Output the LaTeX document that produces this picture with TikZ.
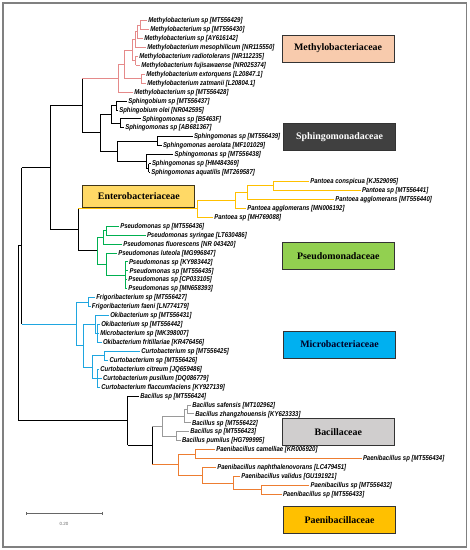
\documentclass[tikz,border=0pt]{standalone}
\usepackage{fontspec}
\setmainfont{Liberation Serif}
\newfontfamily\leaffont[FakeStretch=0.85]{Liberation Sans}
\newfontfamily\plainsans{Liberation Sans}
\usetikzlibrary{arrows.meta}
\definecolor{mpink}{HTML}{E58A8A}
\definecolor{pyel}{HTML}{FFC000}
\definecolor{pgreen}{HTML}{00B050}
\definecolor{mblue}{HTML}{1FA6E0}
\definecolor{bgray}{HTML}{9A9A9A}
\definecolor{porange}{HTML}{ED7D31}
\definecolor{fMeth}{HTML}{F8CBAD}
\definecolor{fSph}{HTML}{404040}
\definecolor{fEnt}{HTML}{FFD966}
\definecolor{fPse}{HTML}{92D050}
\definecolor{fMic}{HTML}{00B0F0}
\definecolor{fBac}{HTML}{D0CECE}
\definecolor{fPae}{HTML}{FFC000}
\tikzset{
 leaf/.style={anchor=west, inner sep=0pt, outer sep=1.3pt, font=\leaffont\bfseries\itshape\fontsize{7.05}{8}\selectfont, text height=5.2pt, text depth=0.8pt},
 br/.style={line width=0.8pt},
 fam/.style={draw=black!80, line width=0.6pt, minimum width=112pt, minimum height=27pt, font=\bfseries\fontsize{9.9}{11}\selectfont, inner sep=0pt},
}
\newcommand{\hb}[3][black]{\draw[br,#1] (#2 |- #3) -- (#3);}
\newcommand{\vb}[4][black]{\draw[br,#1] (#2 |- #3) -- (#2 |- #4);}
\begin{document}
\begin{tikzpicture}[x=1pt,y=-1pt]
\useasboundingbox (0,0) rectangle (470,550);
\draw[line width=1.5pt, color=black!50] (3,3) rectangle (466.5,547);
% leaves
\foreach \n/\x/\t in {
1/147/{Methylobacterium sp [MT556429]},
2/149/{Methylobacterium sp [MT556430]},
3/143/{Methylobacterium sp [AY616142]},
4/146/{Methylobacterium mesophilicum [NR115550]},
5/138/{Methylobacterium radiotolerans [NR112235]},
6/140/{Methylobacterium fujisawaense [NR025374]},
7/145/{Methylobacterium extorquens [L20847.1]},
8/146/{Methylobacterium zatmanii [L20804.1]},
9/133/{Methylobacterium sp [MT556428]},
10/127/{Sphingobium sp [MT556437]},
11/118/{Sphingobium olei [NR042595]},
12/141/{Sphingomonas sp [B5463F]},
13/124/{Sphingomonas sp [AB681367]},
14/192.7/{Sphingomonas sp [MT556439]},
15/161.7/{Sphingomonas aerolata [MF101029]},
16/173.3/{Sphingomonas sp [MT556438]},
17/150.7/{Sphingomonas sp [HM484369]},
18/150/{Sphingomonas aquatilis [MT269587]},
19/309/{Pantoea conspicua [KJ529095]},
20/360.7/{Pantoea sp [MT556441]},
21/334/{Pantoea agglomerans [MT556440]},
22/246/{Pantoea agglomerans [MN006192]},
23/213/{Pantoea sp [MH769088]},
24/119/{Pseudomonas sp [MT556436]},
25/145.7/{Pseudomonas syringae [LT630486]},
26/122/{Pseudomonas fluorescens [NR 043420]},
27/117/{Pseudomonas luteola [MG996847]},
28/127.7/{Pseudomonas sp [KY983442]},
29/128.3/{Pseudomonas sp [MT556435]},
30/127/{Pseudomonas sp [CP033105]},
31/127/{Pseudomonas sp [MN658393]},
32/95/{Frigoribacterium sp [MT556427]},
33/90.7/{Frigoribacterium faeni [LN774179]},
34/109/{Okibacterium sp [MT556431]},
35/100/{Okibacterium sp [MT556442]},
36/99/{Microbacterium sp [MK398007]},
37/101.7/{Okibacterium fritillariae [KR476456]},
38/140/{Curtobacterium sp [MT556425]},
39/108.3/{Curtobacterium sp [MT556426]},
40/99/{Curtobacterium citreum [JQ659486]},
41/101.7/{Curtobacterium pusillum [DQ086779]},
42/100/{Curtobacterium flaccumfaciens [KY927139]},
43/139/{Bacillus sp [MT556424]},
44/191/{Bacillus safensis [MT102962]},
45/194/{Bacillus zhangzhouensis [KY623333]},
46/190.7/{Bacillus sp [MT556422]},
47/189/{Bacillus sp [MT556423]},
48/180.7/{Bacillus pumilus [HG799995]},
49/215/{Paenibacillus camelliae [KR006920]},
50/361.7/{Paenibacillus sp [MT556434]},
51/216/{Paenibacillus naphthalenovorans [LC479451]},
52/240/{Paenibacillus validus [GU191921]},
53/309.3/{Paenibacillus sp [MT556432]},
54/281.7/{Paenibacillus sp [MT556433]}}
  \node[leaf] (l\n) at (\x,{20.5+8.94*(\n-1)}) {\t};
% internal nodes
\coordinate (m12) at (140,24.97);
\coordinate (m123) at (137,31.68);
\coordinate (m14) at (135,39.5);
\coordinate (m56) at (135.5,60.73);
\coordinate (m16) at (132,50.1);
\coordinate (m78) at (141,78.61);
\coordinate (m18) at (124,64.36);
\coordinate (m19) at (118,78.19);
\coordinate (s1011) at (116,105.43);
\coordinate (s1213) at (120,123.31);
\coordinate (s1013) at (111,114.37);
\coordinate (s1415) at (157,141.19);
\coordinate (s1718) at (148.5,168.01);
\coordinate (s1618) at (146,161.3);
\coordinate (s1418) at (117,151.25);
\coordinate (Sph) at (100,132.81);
\coordinate (MS) at (82,105.5);
\coordinate (P4) at (273,185.89);
\coordinate (P3) at (247,192.6);
\coordinate (P2) at (235,200.42);
\coordinate (P1) at (197,208.8);
\coordinate (G1a) at (106,230.59);
\coordinate (G1) at (103,237.3);
\coordinate (G3) at (125,275.29);
\coordinate (G2) at (106,264.1);
\coordinate (G) at (97,250.7);
\coordinate (E) at (78,229.75);
\coordinate (C) at (50,167.6);
\coordinate (F) at (88,302.11);
\coordinate (O2) at (97,333.4);
\coordinate (O) at (95,324.46);
\coordinate (Cu1) at (104.3,355.75);
\coordinate (Cu2) at (97,378.1);
\coordinate (Cu) at (92,366.93);
\coordinate (OC) at (83.3,345.7);
\coordinate (Mi) at (76.7,323.9);
\coordinate (B) at (21.7,245.75);
\coordinate (Bs2) at (187,409.39);
\coordinate (Bs) at (184.5,416.1);
\coordinate (Bp) at (176,436.21);
\coordinate (Bg) at (162.3,426.15);
\coordinate (Pa1) at (195,454.09);
\coordinate (Pa4) at (261,489.85);
\coordinate (Pa3) at (233,483.15);
\coordinate (Pa2) at (202,475.3);
\coordinate (Pa) at (178.3,464.7);
\coordinate (BP) at (152.3,445.4);
\coordinate (BA) at (127.7,420.7);
\coordinate (A) at (18.3,333.2);
% Methylobacteriaceae
\vb[mpink]{m12}{l1}{l2} \hb[mpink]{m12}{l1} \hb[mpink]{m12}{l2}
\vb[mpink]{m123}{m12}{l3} \hb[mpink]{m123}{m12} \hb[mpink]{m123}{l3}
\vb[mpink]{m14}{m123}{l4} \hb[mpink]{m14}{m123} \hb[mpink]{m14}{l4}
\vb[mpink]{m56}{l5}{l6} \hb[mpink]{m56}{l5} \hb[mpink]{m56}{l6}
\vb[mpink]{m16}{m14}{m56} \hb[mpink]{m16}{m14} \hb[mpink]{m16}{m56}
\vb[mpink]{m78}{l7}{l8} \hb[mpink]{m78}{l7} \hb[mpink]{m78}{l8}
\vb[mpink]{m18}{m16}{m78} \hb[mpink]{m18}{m16} \hb[mpink]{m18}{m78}
\vb[mpink]{m19}{m18}{l9} \hb[mpink]{m19}{m18} \hb[mpink]{m19}{l9}
% Sphingomonadaceae
\vb{s1011}{l10}{l11} \hb{s1011}{l10} \hb{s1011}{l11}
\vb{s1213}{l12}{l13} \hb{s1213}{l12} \hb{s1213}{l13}
\vb{s1013}{s1011}{s1213} \hb{s1013}{s1011} \hb{s1013}{s1213}
\vb{s1415}{l14}{l15} \hb{s1415}{l14} \hb{s1415}{l15}
\vb{s1718}{l17}{l18} \hb{s1718}{l17} \hb{s1718}{l18}
\vb{s1618}{l16}{s1718} \hb{s1618}{l16} \hb{s1618}{s1718}
\vb{s1418}{s1415}{s1618} \hb{s1418}{s1415} \hb{s1418}{s1618}
\vb{Sph}{s1013}{s1418} \hb{Sph}{s1013} \hb{Sph}{s1418}
\vb{MS}{m19}{Sph} \hb[mpink]{MS}{m19} \hb{MS}{Sph}
% Enterobacteriaceae
\vb[pyel]{P4}{l19}{l20} \hb[pyel]{P4}{l19} \hb[pyel]{P4}{l20}
\vb[pyel]{P3}{P4}{l21} \hb[pyel]{P3}{P4} \hb[pyel]{P3}{l21}
\vb[pyel]{P2}{P3}{l22} \hb[pyel]{P2}{P3} \hb[pyel]{P2}{l22}
\vb[pyel]{P1}{P2}{l23} \hb[pyel]{P1}{P2} \hb[pyel]{P1}{l23}
% Pseudomonadaceae
\vb[pgreen]{G1a}{l24}{l25} \hb[pgreen]{G1a}{l24} \hb[pgreen]{G1a}{l25}
\vb[pgreen]{G1}{G1a}{l26} \hb[pgreen]{G1}{G1a} \hb[pgreen]{G1}{l26}
\vb[pgreen]{G3}{l28}{l31} \hb[pgreen]{G3}{l28} \hb[pgreen]{G3}{l29} \hb[pgreen]{G3}{l30} \hb[pgreen]{G3}{l31}
\vb[pgreen]{G2}{l27}{G3} \hb[pgreen]{G2}{l27} \hb[pgreen]{G2}{G3}
\vb[pgreen]{G}{G1}{G2} \hb[pgreen]{G}{G1} \hb[pgreen]{G}{G2}
\vb{E}{P1}{G} \hb[pyel]{E}{P1} \hb{E}{G}
\vb{C}{MS}{E} \hb{C}{MS} \hb{C}{E}
% Microbacteriaceae
\vb[mblue]{F}{l32}{l33} \hb[mblue]{F}{l32} \hb[mblue]{F}{l33}
\vb[mblue]{O2}{l35}{l37} \hb[mblue]{O2}{l35} \hb[mblue]{O2}{l36} \hb[mblue]{O2}{l37}
\vb[mblue]{O}{l34}{O2} \hb[mblue]{O}{l34} \hb[mblue]{O}{O2}
\vb[mblue]{Cu1}{l38}{l39} \hb[mblue]{Cu1}{l38} \hb[mblue]{Cu1}{l39}
\vb[mblue]{Cu2}{l40}{l42} \hb[mblue]{Cu2}{l40} \hb[mblue]{Cu2}{l41} \hb[mblue]{Cu2}{l42}
\vb[mblue]{Cu}{Cu1}{Cu2} \hb[mblue]{Cu}{Cu1} \hb[mblue]{Cu}{Cu2}
\vb[mblue]{OC}{O}{Cu} \hb[mblue]{OC}{O} \hb[mblue]{OC}{Cu}
\vb[mblue]{Mi}{F}{OC} \hb[mblue]{Mi}{F} \hb[mblue]{Mi}{OC}
\vb{B}{C}{Mi} \hb{B}{C} \hb[mblue]{B}{Mi}
% Bacillaceae
\vb[bgray]{Bs2}{l44}{l45} \hb[bgray]{Bs2}{l44} \hb[bgray]{Bs2}{l45}
\vb[bgray]{Bs}{Bs2}{l46} \hb[bgray]{Bs}{Bs2} \hb[bgray]{Bs}{l46}
\vb[bgray]{Bp}{l47}{l48} \hb[bgray]{Bp}{l47} \hb[bgray]{Bp}{l48}
\vb[bgray]{Bg}{Bs}{Bp} \hb[bgray]{Bg}{Bs} \hb[bgray]{Bg}{Bp}
% Paenibacillaceae
\vb[porange]{Pa1}{l49}{l50} \hb[porange]{Pa1}{l49} \hb[porange]{Pa1}{l50}
\vb[porange]{Pa4}{l53}{l54} \hb[porange]{Pa4}{l53} \hb[porange]{Pa4}{l54}
\vb[porange]{Pa3}{l52}{Pa4} \hb[porange]{Pa3}{l52} \hb[porange]{Pa3}{Pa4}
\vb[porange]{Pa2}{l51}{Pa3} \hb[porange]{Pa2}{l51} \hb[porange]{Pa2}{Pa3}
\vb[porange]{Pa}{Pa1}{Pa2} \hb[porange]{Pa}{Pa1} \hb[porange]{Pa}{Pa2}
\vb{BP}{Bg}{Pa} \hb[bgray]{BP}{Bg} \hb[porange]{BP}{Pa}
\vb{BA}{l43}{BP} \hb{BA}{l43} \hb{BA}{BP}
\vb{A}{B}{BA} \hb{A}{B} \hb{A}{BA}
% family boxes
\node[fam, fill=fMeth] (fm) at (338,48.3) {Methylobacteriaceae};
\node[fam, fill=fSph, text=white] (fs) at (339.5,137) {Sphingomonadaceae};
\node[fam, fill=fEnt, draw=black!75!fEnt, line width=1pt, minimum height=22pt] (fe) at (138.8,196) {Enterobacteriaceae};
\node[fam, fill=fPse] (fp) at (338.3,255.7) {Pseudomonadaceae};
\node[fam, fill=fMic, text=black!85!blue] (fi) at (339.5,344.3) {Microbacteriaceae};
\node[fam, fill=fBac] (fb) at (338.3,432.2) {Bacillaceae};
\node[fam, fill=fPae] (fa) at (339.5,519.7) {Paenibacillaceae};
% scale bar
\coordinate (sbL) at (26,513.3);
\coordinate (sbR) at (102.3,513.3);
\draw[black!60, line width=0.6pt, {Bar[width=3pt]}-{Bar[width=3pt]}] (sbL) -- (sbR);
\node[font=\plainsans\fontsize{4.5}{5}\selectfont, text=black!60] (sbt) at (64,523.5) {0.20};
\end{tikzpicture}
\end{document}
